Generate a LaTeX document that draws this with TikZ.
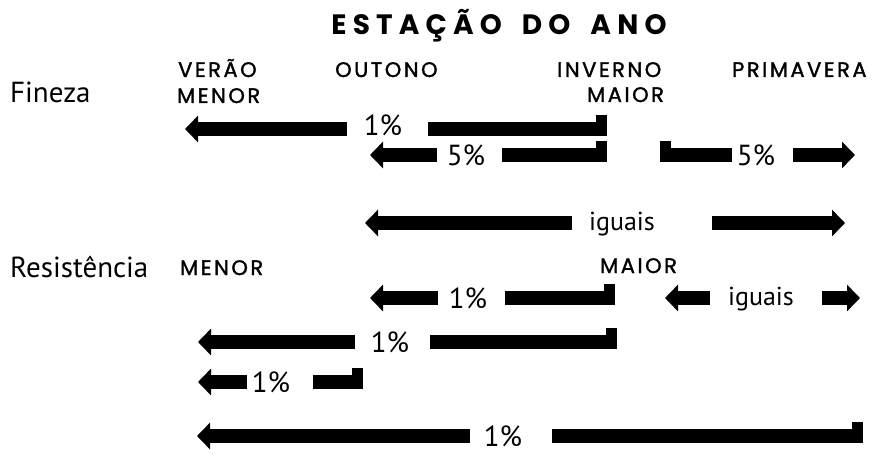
\documentclass[tikz,border=0pt]{standalone}
\usepackage{fontspec}
\setmainfont{PT Sans}
\newfontfamily\capsfont[LetterSpace=12,FakeBold=1.5]{Poppins}
\newfontfamily\titlefont[LetterSpace=22]{Poppins}
\usetikzlibrary{arrows.meta}
\newcommand{\barbump}[1]{\fill (#1) ++(-11,-14) rectangle (#1);}
\newcommand{\barbumpleft}[1]{\fill (#1) ++(11,-14) rectangle (#1);}

\begin{document}
\begin{tikzpicture}[x=1pt,y=-1pt]
    \tikzstyle{thickbar}=[line width=14pt]
    \tikzstyle{arrowbar}=[thickbar,-{Triangle[length=13pt,width=26pt]}]
    \tikzstyle{caps}=[inner sep=0pt,anchor=base west,font=\capsfont\fontsize{21}{21}\selectfont]
    \tikzstyle{rowname}=[inner sep=0pt,anchor=base west,font=\fontsize{29}{29}\selectfont]
    \tikzstyle{pct}=[inner sep=0pt,font=\fontsize{29}{29}\selectfont]
    \tikzstyle{same}=[inner sep=0pt,anchor=base,font=\fontsize{26}{26}\selectfont]
    \useasboundingbox (0,0) rectangle (872,457);

    % Title and the seasons
    \node[inner sep=0pt,anchor=base,font=\titlefont\bfseries\fontsize{28}{28}\selectfont] (title) at (499,35) {ESTAÇÃO\hspace{20pt}DO\hspace{20pt}ANO};
    \node[caps] (verao) at (178,77) {VERÃO};
    \node[caps] (outono) at (335,77) {OUTONO};
    \node[caps] (inverno) at (557,77) {INVERNO};
    \node[caps] (primavera) at (732,77) {PRIMAVERA};

    % Fineza
    \node[rowname] (fineza) at (10,103) {Fineza};
    \node[caps] (fmenor) at (177,103) {MENOR};
    \node[caps] (fmaior) at (587,102) {MAIOR};

    \node[pct] (f1) at (383,125) {1\%};
    \coordinate (f1l) at (185,129); \coordinate (f1m) at (347,129);
    \coordinate (f1n) at (428,129); \coordinate (f1r) at (607,129);
    \draw[arrowbar] (f1m) -- (f1l);
    \draw[thickbar] (f1n) -- (f1r); \barbump{f1r}

    \node[pct] (f2) at (466,155) {5\%};
    \coordinate (f2l) at (370,155); \coordinate (f2m) at (437,155);
    \coordinate (f2n) at (502,155); \coordinate (f2r) at (607,155);
    \draw[arrowbar] (f2m) -- (f2l);
    \draw[thickbar] (f2n) -- (f2r); \barbump{f2r}

    \node[pct] (f2b) at (756,155) {5\%};
    \coordinate (f2bl) at (660,155); \coordinate (f2bm) at (732,155);
    \coordinate (f2bn) at (793,155); \coordinate (f2br) at (855,155);
    \draw[thickbar] (f2bl) -- (f2bm); \barbumpleft{f2bl}
    \draw[arrowbar] (f2bn) -- (f2br);

    \node[same] (f3) at (622,230) {iguais};
    \coordinate (f3l) at (365,223); \coordinate (f3m) at (572,223);
    \coordinate (f3n) at (712,223); \coordinate (f3r) at (845,223);
    \draw[arrowbar] (f3m) -- (f3l);
    \draw[arrowbar] (f3n) -- (f3r);

    % Resistencia
    \node[rowname] (resist) at (10,277) {Resistência};
    \node[caps] (rmenor) at (180,275) {MENOR};
    \node[caps] (rmaior) at (600,273) {MAIOR};

    \node[pct] (r1) at (468,298) {1\%};
    \coordinate (r1l) at (370,298); \coordinate (r1m) at (438,298);
    \coordinate (r1n) at (505,298); \coordinate (r1r) at (615,298);
    \draw[arrowbar] (r1m) -- (r1l);
    \draw[thickbar] (r1n) -- (r1r); \barbump{r1r}

    \node[same] (r1b) at (761,305) {iguais};
    \coordinate (r1bl) at (665,298); \coordinate (r1bm) at (710,298);
    \coordinate (r1bn) at (822,298); \coordinate (r1br) at (860,298);
    \draw[arrowbar] (r1bm) -- (r1bl);
    \draw[arrowbar] (r1bn) -- (r1br);

    \node[pct] (r2) at (390,342) {1\%};
    \coordinate (r2l) at (198,342); \coordinate (r2m) at (355,342);
    \coordinate (r2n) at (430,342); \coordinate (r2r) at (617,342);
    \draw[arrowbar] (r2m) -- (r2l);
    \draw[thickbar] (r2n) -- (r2r); \barbump{r2r}

    \node[pct] (r3) at (271,382) {1\%};
    \coordinate (r3l) at (198,382); \coordinate (r3m) at (247,382);
    \coordinate (r3n) at (313,382); \coordinate (r3r) at (363,382);
    \draw[arrowbar] (r3m) -- (r3l);
    \draw[thickbar] (r3n) -- (r3r); \barbump{r3r}

    \node[pct] (r4) at (503,436) {1\%};
    \coordinate (r4l) at (197,436); \coordinate (r4m) at (470,436);
    \coordinate (r4n) at (552,436); \coordinate (r4r) at (863,436);
    \draw[arrowbar] (r4m) -- (r4l);
    \draw[thickbar] (r4n) -- (r4r); \barbump{r4r}
\end{tikzpicture}
\end{document}
